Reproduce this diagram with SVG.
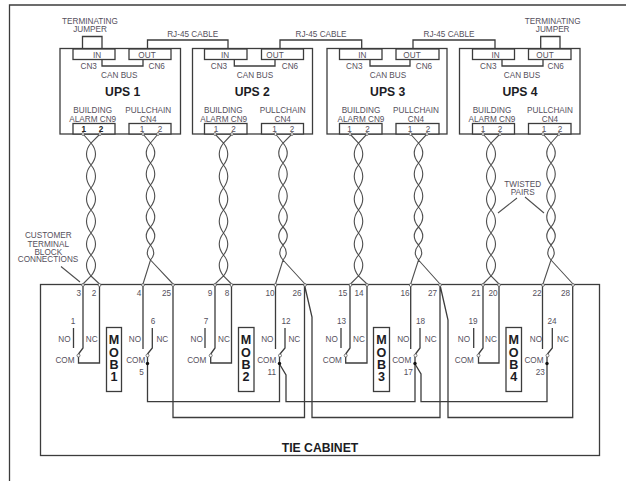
<svg xmlns="http://www.w3.org/2000/svg" width="626" height="481" viewBox="0 0 626 481">
<defs>
<style>
.w{fill:none;stroke:#3c3c3c;stroke-width:1.3}
.t{stroke:#505050;stroke-width:1.1}
.b{fill:#fff;stroke:#3c3c3c;stroke-width:1.3}
.p{fill:#fff;stroke:#555;stroke-width:.8}
.d{fill:#111}
text{font-family:"Liberation Sans",Arial,sans-serif;text-anchor:middle;fill:#55505c;font-size:8.2px}
.h{font-weight:bold;font-size:12.2px;fill:#1c1c24}
.m{font-weight:bold;font-size:12.6px;fill:#1c1c24}
.k{font-weight:bold;fill:#222}
</style>
</defs>
<rect width="626" height="481" fill="#fff"/>
<path class="w" d="M9.500 481V5H626"/>
<g id="tie-cabinet">
<rect class="w" x="40.500" y="284.500" width="559" height="171"/>
<text class="h" x="320" y="451.500">TIE CABINET</text>
</g>
<g id="ups-1">
<rect class="b" x="60" y="48.500" width="120.500" height="85.500"/>
<rect class="b" x="73" y="49" width="42" height="10.500"/><rect class="b" x="129" y="49" width="42" height="10.500"/>
<rect class="b" x="73" y="123.500" width="42" height="10.500"/><rect class="b" x="129" y="123.500" width="42" height="10.500"/>
<text x="97" y="58">IN</text><text x="147" y="58">OUT</text><text x="88.700" y="69.300">CN3</text><text x="156.700" y="69.300">CN6</text>
<text x="119.300" y="78">CAN BUS</text><text class="h" x="122.700" y="95.700">UPS 1</text>
<text><tspan x="92.700" y="113.300">BUILDING</tspan><tspan x="92.700" y="121.700">ALARM CN9</tspan></text><text><tspan x="148.300" y="113.300">PULLCHAIN</tspan><tspan x="148.300" y="121.700">CN4</tspan></text>
<text class="k" x="83.700" y="131.700">1</text><text class="k" x="101" y="131.700">2</text><text x="142" y="131.700">1</text><text x="160" y="131.700">2</text>
</g>
<g id="ups-2">
<rect class="b" x="192.500" y="48.500" width="120" height="85.500"/>
<rect class="b" x="204.500" y="49" width="42.500" height="10.500"/><rect class="b" x="261.500" y="49" width="42" height="10.500"/>
<rect class="b" x="204.500" y="123.500" width="42.500" height="10.500"/><rect class="b" x="261.500" y="123.500" width="42" height="10.500"/>
<text x="225" y="58">IN</text><text x="275" y="58">OUT</text><text x="219" y="69.300">CN3</text><text x="290" y="69.300">CN6</text>
<text x="255" y="78">CAN BUS</text><text class="h" x="252.300" y="95.700">UPS 2</text>
<text><tspan x="223.300" y="113.300">BUILDING</tspan><tspan x="223.700" y="121.700">ALARM CN9</tspan></text><text><tspan x="282.700" y="113.300">PULLCHAIN</tspan><tspan x="282.700" y="121.700">CN4</tspan></text>
<text x="216" y="131.700">1</text><text x="233.500" y="131.700">2</text><text x="274.500" y="131.700">1</text><text x="292" y="131.700">2</text>
</g>
<g id="ups-3">
<rect class="b" x="327" y="48.500" width="120" height="85.500"/>
<rect class="b" x="339.500" y="49" width="42.500" height="10.500"/><rect class="b" x="396" y="49" width="43" height="10.500"/>
<rect class="b" x="339.500" y="123.500" width="42.500" height="10.500"/><rect class="b" x="396" y="123.500" width="43" height="10.500"/>
<text x="362.300" y="58">IN</text><text x="412" y="58">OUT</text><text x="354.300" y="69.300">CN3</text><text x="424" y="69.300">CN6</text>
<text x="388" y="78">CAN BUS</text><text class="h" x="387.700" y="95.700">UPS 3</text>
<text><tspan x="361" y="113.300">BUILDING</tspan><tspan x="361" y="121.700">ALARM CN9</tspan></text><text><tspan x="416" y="113.300">PULLCHAIN</tspan><tspan x="416" y="121.700">CN4</tspan></text>
<text x="349.500" y="131.700">1</text><text x="367.500" y="131.700">2</text><text x="410" y="131.700">1</text><text x="428" y="131.700">2</text>
</g>
<g id="ups-4">
<rect class="b" x="459.500" y="48.500" width="120.500" height="85.500"/>
<rect class="b" x="472.500" y="49" width="42" height="10.500"/><rect class="b" x="528.500" y="49" width="42.500" height="10.500"/>
<rect class="b" x="472.500" y="123.500" width="42" height="10.500"/><rect class="b" x="528.500" y="123.500" width="42.500" height="10.500"/>
<text x="495.700" y="58">IN</text><text x="545" y="58">OUT</text><text x="488.300" y="69.300">CN3</text><text x="555.700" y="69.300">CN6</text>
<text x="522" y="78">CAN BUS</text><text class="h" x="520" y="95.700">UPS 4</text>
<text><tspan x="492" y="113.300">BUILDING</tspan><tspan x="492" y="121.700">ALARM CN9</tspan></text><text><tspan x="550" y="113.300">PULLCHAIN</tspan><tspan x="550" y="121.700">CN4</tspan></text>
<text x="483" y="131.700">1</text><text x="500" y="131.700">2</text><text x="544" y="131.700">1</text><text x="560" y="131.700">2</text>
</g>
<g id="mob-1"><rect class="w" x="106.500" y="327.500" width="15" height="64"/><text class="m"><tspan x="114" y="344">M</tspan><tspan x="114" y="356.500">O</tspan><tspan x="114" y="369">B</tspan><tspan x="114" y="381">1</tspan></text></g>
<g id="mob-2"><rect class="w" x="238.500" y="327.500" width="15.500" height="64"/><text class="m"><tspan x="246" y="344">M</tspan><tspan x="246" y="356.500">O</tspan><tspan x="246" y="369">B</tspan><tspan x="246" y="381">2</tspan></text></g>
<g id="mob-3"><rect class="w" x="373.500" y="327.500" width="16" height="64"/><text class="m"><tspan x="381.500" y="344">M</tspan><tspan x="381.500" y="356.500">O</tspan><tspan x="381.500" y="369">B</tspan><tspan x="381.500" y="381">3</tspan></text></g>
<g id="mob-4"><rect class="w" x="506" y="327.500" width="15.500" height="64"/><text class="m"><tspan x="513.700" y="344">M</tspan><tspan x="513.700" y="356.500">O</tspan><tspan x="513.700" y="369">B</tspan><tspan x="513.700" y="381">4</tspan></text></g>
<g id="connectors">
<path class="w" d="M82.500 49V36.500H102V49M560 49V36.500H540.700V49M147.500 49V40H228V49M280 49V40H361.700V49M413 49V40H495V49"/>
<path class="w" d="M102 59.500V66H143V59.500M234.300 59.500V66H275V59.500M370 59.500V66H410V59.500M502 59.500V66H543V59.500"/>
<path class="t" fill="none" d="M83 134L91 143Q100 154 91 165Q82 176 91 188Q100 199 91 210Q82 221 91 233Q100 244 91 255Q82 265 91 276L99.500 284M100 134L91 143Q82 154 91 165Q100 176 91 188Q82 199 91 210Q100 221 91 233Q82 244 91 255Q100 265 91 276L83 284"/>
<path class="t" fill="none" d="M215 134L223.500 143Q232 154 223.500 165Q215 176 223.500 188Q232 199 223.500 210Q215 221 223.500 233Q232 244 223.500 255Q215 265 223.500 276L231.500 284M232 134L223.500 143Q215 154 223.500 165Q232 176 223.500 188Q215 199 223.500 210Q232 221 223.500 233Q215 244 223.500 255Q232 265 223.500 276L215 284"/>
<path class="t" fill="none" d="M350 134L358.500 143Q367 154 358.500 165Q350 176 358.500 188Q367 199 358.500 210Q350 221 358.500 233Q367 244 358.500 255Q350 265 358.500 276L367 284M367 134L358.500 143Q350 154 358.500 165Q367 176 358.500 188Q350 199 358.500 210Q367 221 358.500 233Q350 244 358.500 255Q367 265 358.500 276L350.500 284"/>
<path class="t" fill="none" d="M483 134L491 143Q500 154 491 165Q482 176 491 188Q500 199 491 210Q482 221 491 233Q500 244 491 255Q482 265 491 276L499 284M500 134L491 143Q482 154 491 165Q500 176 491 188Q482 199 491 210Q500 221 491 233Q482 244 491 255Q500 265 491 276L483 284"/>
<path class="t" fill="none" d="M143 134L150.500 143Q159 153 150.500 163Q142 174 150.500 185Q159 196 150.500 207Q142 217 150.500 227Q159 236 150.500 245Q144 253 150.500 260L173 284M158 134L150.500 143Q142 153 150.500 163Q159 174 150.500 185Q142 196 150.500 207Q159 217 150.500 227Q142 236 150.500 245Q157 253 150.500 260L143 284"/>
<path class="t" fill="none" d="M275.500 134L283 143Q291.500 153 283 163Q274.500 174 283 185Q291.500 196 283 207Q274.500 217 283 227Q291.500 236 283 245Q276.500 253 283 260L305 284M292 134L283 143Q274.500 153 283 163Q291.500 174 283 185Q274.500 196 283 207Q291.500 217 283 227Q274.500 236 283 245Q289.500 253 283 260L275.500 284"/>
<path class="t" fill="none" d="M410.500 134L418.500 143Q427 153 418.500 163Q410 174 418.500 185Q427 196 418.500 207Q410 217 418.500 227Q427 236 418.500 245Q412 253 418.500 260L440 284M427 134L418.500 143Q410 153 418.500 163Q427 174 418.500 185Q410 196 418.500 207Q427 217 418.500 227Q410 236 418.500 245Q425 253 418.500 260L410.700 284"/>
<path class="t" fill="none" d="M543 134L551 143Q559.500 153 551 163Q542.500 174 551 185Q559.500 196 551 207Q542.500 217 551 227Q559.500 236 551 245Q544.500 253 551 260L573 284M559 134L551 143Q542.500 153 551 163Q559.500 174 551 185Q542.500 196 551 207Q559.500 217 551 227Q542.500 236 551 245Q557.500 253 551 260L543 284"/>
<path class="w" d="M83 284V348L78.500 354M99.500 284V363H78.500V357"/>
<path class="w" d="M215 284V348L210.700 354M231.500 284V363H210.700V357"/>
<path class="w" d="M350 284V348L345.700 354M367 284V363H345.700V357"/>
<path class="w" d="M483 284V348L478.500 354M499 284V363H478.500V357"/>
<path class="w" d="M73.500 328V348M205 328V348M341 328V348M473.700 328V348"/>
<path class="w" d="M143 284V349M152.300 328V348L147.500 354M147.500 357V401.700H279.500V357M275.500 284V349M285 328V348L280 354"/>
<path class="w" d="M279.500 364L286 375V401.700H415V357M410.700 284V349M420 328V348L415.500 354"/>
<path class="w" d="M415 364L421 374V401.700H547V357M542.500 284V349M552.300 328V348L547.500 354"/>
<path class="w" d="M173 284V417.500H304.500V285L312 317V417.500H440V285L448 320V417.500H572.700V285"/>
<path class="t" fill="none" d="M61 266.500L80 282M498 213L517 198M525 197L544 213"/>
<g class="p">
<circle cx="83" cy="134" r="1.400"/><circle cx="100" cy="134" r="1.400"/><circle cx="143" cy="134" r="1.400"/><circle cx="158" cy="134" r="1.400"/>
<circle cx="215" cy="134" r="1.400"/><circle cx="232" cy="134" r="1.400"/><circle cx="275.500" cy="134" r="1.400"/><circle cx="292" cy="134" r="1.400"/>
<circle cx="350" cy="134" r="1.400"/><circle cx="367" cy="134" r="1.400"/><circle cx="410.500" cy="134" r="1.400"/><circle cx="427" cy="134" r="1.400"/>
<circle cx="483" cy="134" r="1.400"/><circle cx="500" cy="134" r="1.400"/><circle cx="543" cy="134" r="1.400"/><circle cx="559" cy="134" r="1.400"/>
<circle cx="83" cy="285" r="1.400"/><circle cx="99.500" cy="285" r="1.400"/><circle cx="143" cy="285" r="1.400"/><circle cx="173" cy="285" r="1.400"/>
<circle cx="215" cy="285" r="1.400"/><circle cx="231.500" cy="285" r="1.400"/><circle cx="275.500" cy="285" r="1.400"/><circle cx="305" cy="285" r="1.400"/>
<circle cx="350.500" cy="285" r="1.400"/><circle cx="367" cy="285" r="1.400"/><circle cx="410.700" cy="285" r="1.400"/><circle cx="440" cy="285" r="1.400"/>
<circle cx="483" cy="285" r="1.400"/><circle cx="499" cy="285" r="1.400"/><circle cx="543" cy="285" r="1.400"/><circle cx="573" cy="285" r="1.400"/>
<circle cx="78.500" cy="355.500" r="1.500"/><circle cx="147.500" cy="355.500" r="1.500"/><circle cx="210.700" cy="355.500" r="1.500"/><circle cx="280" cy="355.500" r="1.500"/>
<circle cx="345.700" cy="355.500" r="1.500"/><circle cx="415.500" cy="355.500" r="1.500"/><circle cx="478.500" cy="355.500" r="1.500"/><circle cx="547.500" cy="355.500" r="1.500"/>
</g>
<circle class="d" cx="147.500" cy="363.500" r="1.700"/><circle class="d" cx="279.500" cy="363.500" r="1.700"/><circle class="d" cx="415" cy="363.500" r="1.700"/><circle class="d" cx="547" cy="363.500" r="1.700"/>
</g>
<g id="labels">
<text><tspan x="90" y="24">TERMINATING</tspan><tspan x="90" y="31.500">JUMPER</tspan></text>
<text><tspan x="552.700" y="24">TERMINATING</tspan><tspan x="552.700" y="31.500">JUMPER</tspan></text>
<text x="192.700" y="36.700">RJ-45 CABLE</text><text x="321" y="36.700">RJ-45 CABLE</text><text x="449" y="36.700">RJ-45 CABLE</text>
<text><tspan x="48.300" y="238.300">CUSTOMER</tspan><tspan x="48.300" y="246.700">TERMINAL</tspan><tspan x="48.300" y="255">BLOCK</tspan><tspan x="48" y="262.300">CONNECTIONS</tspan></text>
<text><tspan x="522.700" y="186.700">TWISTED</tspan><tspan x="522.700" y="195">PAIRS</tspan></text>
<text x="78.700" y="296">3</text><text x="94" y="296">2</text><text x="139" y="296">4</text><text x="166.500" y="296">25</text>
<text x="210" y="296">9</text><text x="227" y="296">8</text><text x="270" y="296">10</text><text x="297" y="296">26</text>
<text x="342.700" y="296">15</text><text x="359" y="296">14</text><text x="405" y="296">16</text><text x="432.500" y="296">27</text>
<text x="476" y="296">21</text><text x="493" y="296">20</text><text x="537" y="296">22</text><text x="565.500" y="296">28</text>
<text x="73" y="324">1</text><text x="153" y="324">6</text><text x="206" y="324">7</text><text x="286" y="324">12</text>
<text x="341.500" y="324">13</text><text x="420.500" y="324">18</text><text x="473" y="324">19</text><text x="552" y="324">24</text>
<text x="64.500" y="342">NO</text><text x="91.700" y="342">NC</text><text x="135" y="342">NO</text><text x="162.300" y="342">NC</text>
<text x="196.700" y="342">NO</text><text x="224" y="342">NC</text><text x="267.300" y="342">NO</text><text x="294.300" y="342">NC</text>
<text x="331.700" y="342">NO</text><text x="359" y="342">NC</text><text x="403.300" y="342">NO</text><text x="430.700" y="342">NC</text>
<text x="464" y="342">NO</text><text x="491" y="342">NC</text><text x="536" y="342">NO</text><text x="563" y="342">NC</text>
<text x="65" y="362.700">COM</text><text x="135.700" y="362.700">COM</text><text x="196.700" y="362.700">COM</text><text x="266.700" y="362.700">COM</text>
<text x="332.300" y="362.700">COM</text><text x="401.700" y="362.700">COM</text><text x="464.300" y="362.700">COM</text><text x="534" y="362.700">COM</text>
<text x="141.500" y="375">5</text><text x="271.700" y="375">11</text><text x="408.300" y="375">17</text><text x="540.300" y="375">23</text>
</g>
</svg>
